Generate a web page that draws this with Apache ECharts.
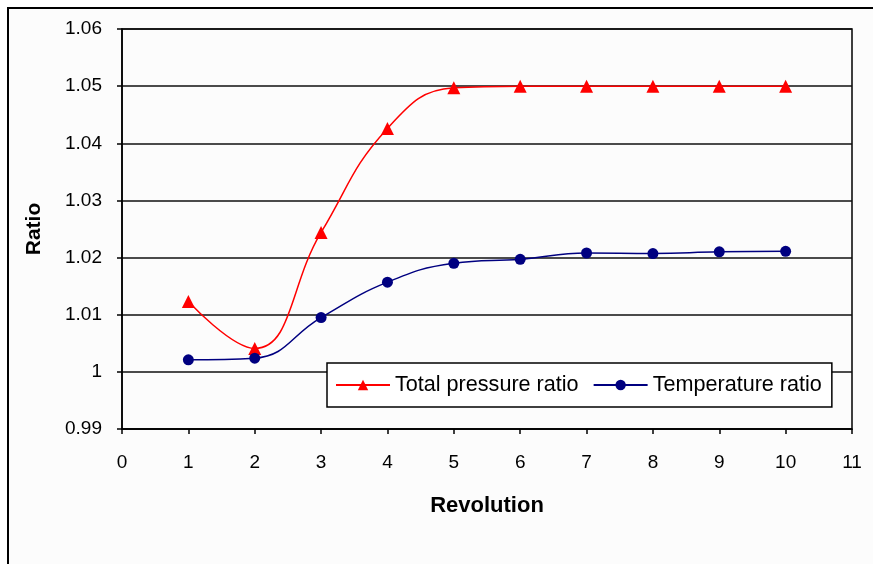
<!DOCTYPE html>
<html>
<head>
<meta charset="utf-8">
<script src="https://cdn.jsdelivr.net/npm/echarts@6/dist/echarts.min.js"></script>
<style>
  html, body { margin: 0; padding: 0; background: #ffffff; }
  #chart { width: 873px; height: 564px; }
</style>
</head>
<body>
<div id="chart"></div>
<script>
// Revolution number on the x axis
const revolutions = [1, 2, 3, 4, 5, 6, 7, 8, 9, 10];
// Total pressure ratio per revolution
const pressureRatio = [1.0123, 1.0041, 1.0244, 1.0426, 1.0497, 1.0500, 1.0500, 1.0500, 1.0500, 1.0500];
// Temperature ratio per revolution
const temperatureRatio = [1.0021, 1.0024, 1.0095, 1.0157, 1.0190, 1.0197, 1.0208, 1.0207, 1.0210, 1.0211];

const seriesNames = ['Total pressure ratio', 'Temperature ratio'];

const FONT = '"Liberation Sans", Arial, sans-serif';

const chart = echarts.init(document.getElementById('chart'), null, { renderer: 'canvas' });

chart.setOption({
  animation: false,
  backgroundColor: '#ffffff',
  graphic: [{
    type: 'rect',
    z: -10,
    silent: true,
    shape: { x: 8, y: 8, width: 900, height: 620 },
    style: { fill: '#fcfcfc', stroke: '#000000', lineWidth: 2 }
  }],
  grid: {
    left: 122, right: 21, top: 29, bottom: 135,
    show: true,
    backgroundColor: 'transparent',
    borderColor: '#000000',
    borderWidth: 1.5
  },
  legend: {
    left: 327, top: 363,
    orient: 'horizontal',
    backgroundColor: '#ffffff',
    borderColor: '#000000',
    borderWidth: 1.5,
    padding: [11, 10, 11, 8],
    itemWidth: 54,
    itemHeight: 13,
    itemGap: 14,
    textStyle: { fontFamily: FONT, fontSize: 21.6, color: '#000000' },
    data: seriesNames
  },
  xAxis: {
    type: 'value',
    min: 0, max: 11, interval: 1,
    name: 'Revolution',
    nameLocation: 'middle',
    nameGap: 66,
    nameTextStyle: { fontFamily: FONT, fontSize: 22, fontWeight: 'bold', color: '#000000' },
    axisLine: { show: true, lineStyle: { color: '#000000', width: 1.5 } },
    axisTick: { show: true, inside: false, length: 5, lineStyle: { color: '#000000', width: 1.5 } },
    axisLabel: { fontFamily: FONT, fontSize: 19, color: '#000000', margin: 24 },
    splitLine: { show: false }
  },
  yAxis: {
    type: 'value',
    min: 0.99, max: 1.06, interval: 0.01,
    name: 'Ratio',
    nameLocation: 'middle',
    nameGap: 77,
    nameTextStyle: { fontFamily: FONT, fontSize: 21, fontWeight: 'bold', color: '#000000' },
    axisLine: { show: true, lineStyle: { color: '#000000', width: 1.5 } },
    axisTick: { show: true, inside: false, length: 5, lineStyle: { color: '#000000', width: 1.5 } },
    axisLabel: {
      fontFamily: FONT, fontSize: 19, color: '#000000', margin: 20,
      formatter: v => String(parseFloat(v.toFixed(2)))
    },
    splitLine: { show: true, lineStyle: { color: '#111111', width: 1.6 } }
  },
  series: [
    {
      name: seriesNames[0],
      type: 'line',
      smooth: 0.45,
      data: revolutions.map((r, i) => [r, pressureRatio[i]]),
      symbol: 'triangle',
      symbolSize: 13,
      lineStyle: { color: '#ff0000', width: 1.5 },
      itemStyle: { color: '#ff0000' },
      z: 3
    },
    {
      name: seriesNames[1],
      type: 'line',
      smooth: 0.45,
      data: revolutions.map((r, i) => [r, temperatureRatio[i]]),
      symbol: 'circle',
      symbolSize: 11,
      lineStyle: { color: '#000080', width: 1.5 },
      itemStyle: { color: '#000080' },
      z: 3
    }
  ]
});
</script>
</body>
</html>
